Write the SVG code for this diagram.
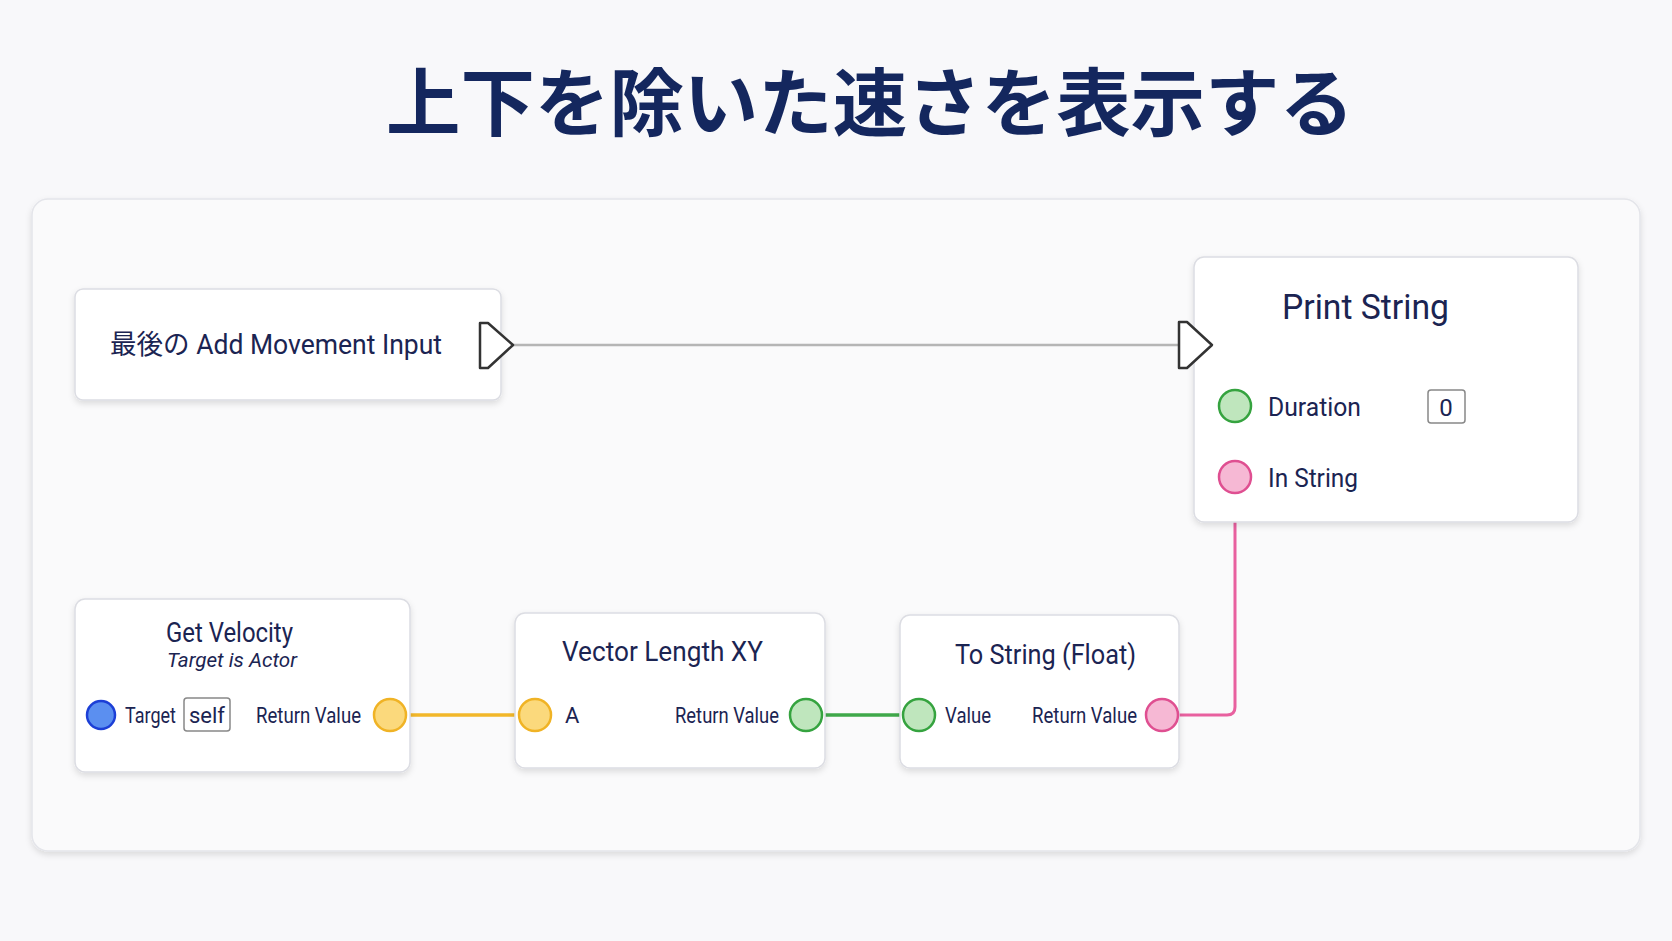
<svg xmlns="http://www.w3.org/2000/svg" width="1672" height="941" viewBox="0 0 1672 941">
<defs>
<filter id="sh" x="-10%" y="-10%" width="120%" height="130%"><feDropShadow dx="0" dy="3" stdDeviation="3" flood-color="#000" flood-opacity="0.12"/></filter>
</defs>
<style>
.t{font-family:Roboto,"Liberation Sans","Noto Sans CJK JP",sans-serif;fill:#1b2452}
.node{fill:#fff;stroke:#dcdde3;stroke-width:1.5;filter:url(#sh)}
.lbl{font-size:22px}
.ttl{font-size:28px;text-anchor:middle}
.exec{fill:#fff;stroke:#333;stroke-width:2.5;stroke-linejoin:round}
.box{fill:#fff;stroke:#888;stroke-width:1.5}
</style>
<rect width="1672" height="941" fill="#f8f8fa"/>
<text x="386" y="130" textLength="968" lengthAdjust="spacingAndGlyphs" class="t" style="font-size:74px;font-weight:700;fill:#14275e">上下を除いた速さを表示する</text>
<rect x="32" y="199" width="1608" height="652" rx="16" fill="#fafafb" stroke="#e4e5ea" stroke-width="1.5" filter="url(#sh)"/>
<g id="connectors" fill="none" stroke-width="3.5">
<line x1="513" y1="345" x2="1178" y2="345" stroke="#b5b5b5" stroke-width="2.5"/>
<line x1="406" y1="715" x2="519" y2="715" stroke="#f2b72a"/>
<line x1="823" y1="715" x2="902" y2="715" stroke="#3fa84a"/>
<path d="M1179 715 H1227 Q1235 715 1235 707 V494" stroke="#e8609f" stroke-width="3"/>
</g>
<g id="n1">
<rect class="node" x="75" y="289" width="426" height="111" rx="8"/>
<text class="t" x="110" y="354" textLength="332" lengthAdjust="spacingAndGlyphs" style="font-size:27px">最後の Add Movement Input</text>
<path class="exec" d="M480 323 L488 323 L513 345 L488 368 L480 368 Z"/>
</g>
<g id="print">
<rect class="node" x="1194" y="257" width="384" height="265" rx="10"/>
<text class="t" x="1282" y="319" textLength="167" lengthAdjust="spacingAndGlyphs" style="font-size:35px">Print String</text>
<path class="exec" d="M1179 322 L1187 322 L1212 345 L1187 368 L1179 368 Z"/>
<circle cx="1235" cy="406" r="16" fill="#bfe6bd" stroke="#35a33f" stroke-width="2.5"/>
<text class="t" x="1268" y="416" textLength="93" lengthAdjust="spacingAndGlyphs" style="font-size:26px">Duration</text>
<rect class="box" x="1428" y="390" width="37" height="33" rx="3"/>
<text class="t" x="1446" y="416" style="font-size:24px;text-anchor:middle">0</text>
<circle cx="1235" cy="477" r="16" fill="#f6b8d4" stroke="#df4f91" stroke-width="2.5"/>
<text class="t" x="1268" y="487" textLength="90" lengthAdjust="spacingAndGlyphs" style="font-size:26px">In String</text>
</g>
<g id="getvel">
<rect class="node" x="75" y="599" width="335" height="173" rx="10"/>
<text class="t" x="166" y="642" textLength="127" lengthAdjust="spacingAndGlyphs" style="font-size:27px">Get Velocity</text>
<text class="t" x="167" y="667" textLength="130" lengthAdjust="spacingAndGlyphs" style="font-size:20px;font-style:italic">Target is Actor</text>
<circle cx="101" cy="715" r="14" fill="#5b8ff0" stroke="#1c3fd6" stroke-width="2.5"/>
<text class="t lbl" x="125" y="723" textLength="51" lengthAdjust="spacingAndGlyphs">Target</text>
<rect class="box" x="184" y="698" width="46" height="33" rx="3"/>
<text class="t lbl" x="207" y="723" text-anchor="middle">self</text>
<text class="t lbl" x="256" y="723" textLength="105" lengthAdjust="spacingAndGlyphs">Return Value</text>
<circle cx="390" cy="715" r="16" fill="#fbd97c" stroke="#f0b325" stroke-width="2.5"/>
</g>
<g id="veclen">
<rect class="node" x="515" y="613" width="310" height="155" rx="10"/>
<text class="t" x="562" y="661" textLength="201" lengthAdjust="spacingAndGlyphs" style="font-size:28px">Vector Length XY</text>
<circle cx="535" cy="715" r="16" fill="#fbd97c" stroke="#f0b325" stroke-width="2.5"/>
<text class="t lbl" x="565" y="723">A</text>
<text class="t lbl" x="675" y="723" textLength="104" lengthAdjust="spacingAndGlyphs">Return Value</text>
<circle cx="806" cy="715" r="16" fill="#bfe6bd" stroke="#35a33f" stroke-width="2.5"/>
</g>
<g id="tostr">
<rect class="node" x="900" y="615" width="279" height="153" rx="10"/>
<text class="t" x="955" y="664" textLength="181" lengthAdjust="spacingAndGlyphs" style="font-size:28px">To String (Float)</text>
<circle cx="919" cy="715" r="16" fill="#bfe6bd" stroke="#35a33f" stroke-width="2.5"/>
<text class="t lbl" x="945" y="723" textLength="46" lengthAdjust="spacingAndGlyphs">Value</text>
<text class="t lbl" x="1032" y="723" textLength="105" lengthAdjust="spacingAndGlyphs">Return Value</text>
<circle cx="1162" cy="715" r="16" fill="#f6b8d4" stroke="#df4f91" stroke-width="2.5"/>
</g>
</svg>
